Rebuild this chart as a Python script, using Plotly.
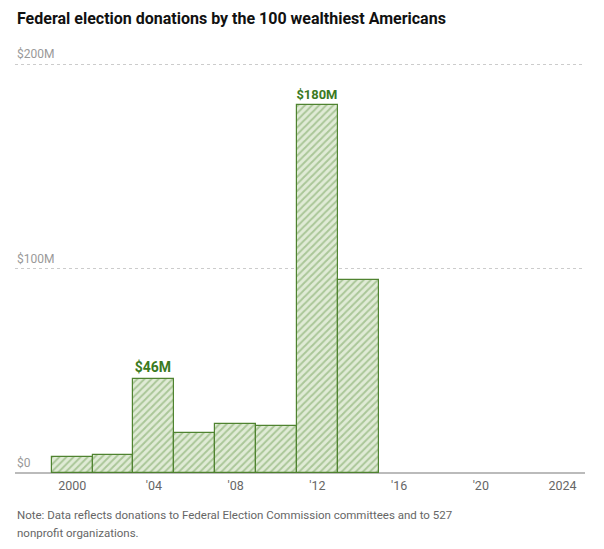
import plotly.graph_objects as go

# Data (values in $ millions)
years = [2000, 2002, 2004, 2006, 2008, 2010, 2012, 2014]
donations = [8, 8.6, 46, 19.4, 24.2, 23.1, 180, 94.6]
bar_labels = ["", "", "$46M", "", "", "", "$180M", ""]

x_tickvals = [2000, 2004, 2008, 2012, 2016, 2020, 2024]
x_ticktext = ["2000", "'04", "'08", "'12", "'16", "'20", "2024"]
y_tickvals = [0, 100, 200]
y_ticktext = ["$0", "$100M", "$200M"]

title_text = "Federal election donations by the 100 wealthiest Americans"
note_lines = [
    "Note: Data reflects donations to Federal Election Commission committees and to 527",
    "nonprofit organizations.",
]

FONT = "Roboto, sans-serif"

fig = go.Figure()
fig.add_trace(go.Bar(
    x=years,
    y=donations,
    width=2,
    text=bar_labels,
    textposition="outside",
    textfont=dict(family=FONT, size=14, color="#3b7a22", weight="bold"),
    cliponaxis=False,
    marker=dict(
        color="#e0ebd6",
        line=dict(color="#4f8330", width=1.2),
        pattern=dict(shape="/", bgcolor="#e0ebd6", fgcolor="#74a25a", size=5, solidity=0.4),
    ),
    hoverinfo="skip",
))

annotations = [
    dict(text=title_text, xref="paper", yref="paper", x=0, y=1,
         xanchor="left", yanchor="middle", yshift=45, showarrow=False,
         font=dict(family=FONT, size=16, color="#111111", weight="bold")),
]
for i, line in enumerate(note_lines):
    annotations.append(dict(text=line, xref="paper", yref="paper", x=0, y=0,
                            xanchor="left", yanchor="middle", yshift=-42 - 18 * i,
                            showarrow=False, align="left",
                            font=dict(family=FONT, size=11.5, color="#666666")))
for v, t in zip(y_tickvals, y_ticktext):
    annotations.append(dict(text=t, xref="paper", yref="y", x=0, y=v,
                            xanchor="left", yanchor="middle", yshift=10,
                            showarrow=False,
                            font=dict(family=FONT, size=12, color="#999999")))

fig.update_layout(
    width=588,
    height=533,
    margin=dict(l=7, r=11, t=55, b=68),
    paper_bgcolor="white",
    plot_bgcolor="white",
    showlegend=False,
    bargap=0,
    font=dict(family=FONT, color="#666666"),
    xaxis=dict(
        range=[1997.2, 2025.1],
        tickvals=x_tickvals,
        ticktext=x_ticktext,
        tickfont=dict(family=FONT, size=12.5, color="#666666"),
        ticklabelstandoff=3,
        showgrid=False,
        zeroline=False,
        showline=False,
        ticks="",
        fixedrange=True,
    ),
    yaxis=dict(
        range=[0, 200.5],
        tickvals=y_tickvals,
        showticklabels=False,
        showgrid=True,
        gridcolor="#cccccc",
        griddash="3px,3px",
        gridwidth=1,
        zeroline=True,
        zerolinecolor="#bbbbbb",
        zerolinewidth=2,
        showline=False,
        ticks="",
        fixedrange=True,
    ),
    annotations=annotations,
)

fig.write_html("out.html")
